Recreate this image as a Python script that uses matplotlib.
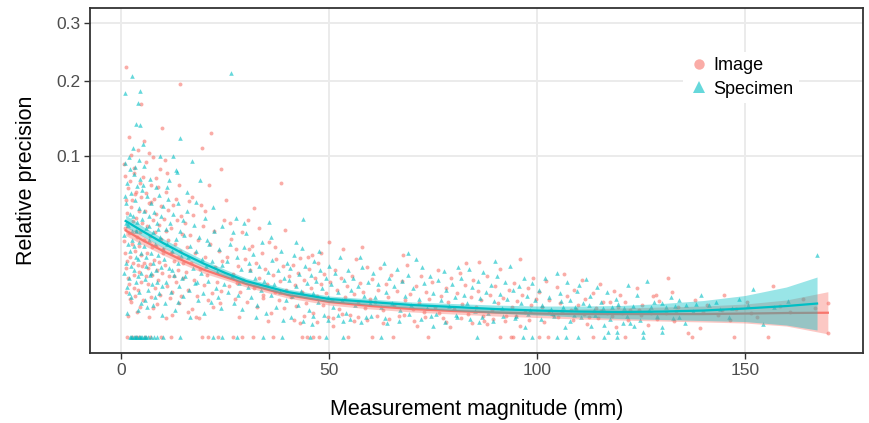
import numpy as np
import matplotlib
matplotlib.use("Agg")
import matplotlib.pyplot as plt
from matplotlib.lines import Line2D

plt.rcParams['font.family'] = ['Liberation Sans', 'DejaVu Sans']

# ---------------- data ----------------
series_names = ["Image", "Specimen"]
x_ticks = [0, 50, 100, 150]
y_ticks = [0.1, 0.2, 0.3]
y_tick_labels = ["0.1", "0.2", "0.3"]

# Image observations (x mm, relative precision)
image_points = [
    (1.1, 0.222), (1.8, 0.122), (4.6, 0.166), (0.9, 0.079), (5.5, 0.117),
    (0.7, 0.091), (1.3, 0.047), (0.6, 0.028), (1.0, 0.0145), (1.5, 0.068), (1.2, 0.0062), (2.3, 0.101), (1.7, 0.033), (2.1, 0.0195), (1.9, 0.0087),
    (2.6, 0.057), (2.4, 0.0038), (3.1, 0.082), (2.8, 0.041), (3.3, 0.0225), (2.9, 0.0118), (3.6, 0.064), (3.8, 0.0305), (3.2, 0.0052), (4.1, 0.0485),
    (3.9, 0.0158), (4.4, 0.072), (4.3, 0.0255), (4.7, 0.0094), (4.0, 0.107), (4.9, 0.0395), (4.5, 0.0027), (0.8, 0.0365), (1.4, 0.0175), (2.0, 0.0745),
    (2.5, 0.0265), (3.0, 0.0072), (3.5, 0.0435), (4.2, 0.0128), (4.8, 0.0595), (1.6, 0.0108), (2.2, 0.0515), (2.7, 0.0165), (3.4, 0.0345), (3.7, 0.0019),
    (4.6, 0.0205), (1.1, 0.0575), (0.9, 0.0215), (2.0, 0.0043), (3.2, 0.0625), (4.9, 0.0152), (1.5, 0.0013), (2.9, 0.0875), (3.9, 0.0068), (4.4, 0.0335),
    (6.7, 0.103), (7.7, 0.099), (9.8, 0.133),
    (5.2, 0.0785), (5.4, 0.0285), (5.6, 0.0485), (5.8, 0.0112), (5.1, 0.0042), (6.0, 0.0635), (6.2, 0.0215), (6.1, 0.0375), (6.4, 0.0086), (6.5, 0.0545),
    (6.9, 0.0162), (6.8, 0.0312), (7.1, 0.0705), (7.0, 0.0048), (7.3, 0.0245), (7.5, 0.0415), (7.4, 0.0118), (7.9, 0.0585), (7.8, 0.0182), (8.1, 0.0335),
    (8.0, 0.0074), (8.3, 0.0465), (8.5, 0.0135), (8.4, 0.0255), (8.8, 0.0685), (8.7, 0.0098), (9.0, 0.0385), (9.1, 0.0172), (9.3, 0.0055), (9.4, 0.0295),
    (9.6, 0.0525), (9.7, 0.0124), (9.9, 0.0215), (5.9, 0.0935), (6.6, 0.0012), (7.6, 0.0026), (8.6, 0.0033), (9.2, 0.0865), (5.3, 0.0168), (8.2, 0.0775),
    (6.3, 0.0145), (7.2, 0.0555),
    (10.5, 0.0956), (14.2, 0.196),
    (10.2, 0.0425), (10.4, 0.0158), (10.7, 0.0645), (10.9, 0.0078), (11.1, 0.0285), (11.3, 0.0495), (11.5, 0.0115), (11.8, 0.0215), (12.0, 0.0365), (12.2, 0.0062),
    (12.4, 0.0535), (12.6, 0.0175), (12.9, 0.0265), (13.1, 0.0094), (13.3, 0.0415), (13.5, 0.0138), (13.8, 0.0705), (14.0, 0.0225), (14.3, 0.0052), (14.6, 0.0325),
    (14.8, 0.0108), (10.1, 0.0235), (10.8, 0.0345), (11.6, 0.0046), (12.7, 0.0115), (13.6, 0.0195), (14.4, 0.0445), (11.0, 0.0825), (12.1, 0.0015), (13.0, 0.0585),
    (14.9, 0.0165), (10.6, 0.0011), (13.9, 0.0036),
    (21.5, 0.127), (19.3, 0.109), (23.9, 0.0861), (21.1, 0.0705), (16.9, 0.0598), (19.1, 0.0532),
    (15.2, 0.0395), (15.5, 0.0128), (15.8, 0.0245), (16.1, 0.0068), (16.4, 0.0315), (16.7, 0.0165), (17.2, 0.0455), (17.5, 0.0098), (17.8, 0.0215), (18.1, 0.0052),
    (18.4, 0.0285), (18.8, 0.0142), (19.5, 0.0375), (19.8, 0.0082), (20.2, 0.0195), (20.6, 0.0118), (21.4, 0.0265), (21.8, 0.0058), (22.2, 0.0345), (22.6, 0.0148),
    (23.0, 0.0092), (23.4, 0.0225), (23.8, 0.0035), (24.3, 0.0175), (24.7, 0.0415), (15.9, 0.0019), (17.0, 0.0024), (18.6, 0.0011), (20.0, 0.0485), (22.0, 0.0028),
    (24.0, 0.0066), (16.2, 0.0565), (20.9, 0.0042), (18.0, 0.0012),
    (31.9, 0.0508), (38.4, 0.0724), (30.5, 0.0418), (39.4, 0.0349), (25.2, 0.0573),
    (25.5, 0.0195), (25.9, 0.0078), (26.4, 0.0295), (26.8, 0.0122), (27.2, 0.0045), (27.6, 0.0235), (28.0, 0.0155), (28.5, 0.0062), (28.9, 0.0335), (29.3, 0.0098),
    (29.8, 0.0185), (30.2, 0.0038), (30.9, 0.0135), (31.4, 0.0255), (31.8, 0.0072), (32.3, 0.0165), (32.7, 0.0028), (33.2, 0.0108), (33.7, 0.0215), (34.1, 0.0055),
    (34.6, 0.0142), (35.0, 0.0085), (35.5, 0.0275), (36.0, 0.0018), (36.4, 0.0118), (36.9, 0.0062), (37.3, 0.0185), (37.8, 0.0042), (38.2, 0.0095), (38.8, 0.0155),
    (39.2, 0.0025), (39.7, 0.0068), (26.1, 0.0395), (28.2, 0.0012), (30.6, 0.0235), (33.0, 0.0365), (35.2, 0.0008), (37.0, 0.0245), (34.0, 0.0046), (27.9, 0.0088),
    (44.8, 0.0194), (48.0, 0.0214), (43.0, 0.019), (53.4, 0.0235), (57.8, 0.0249),
    (40.3, 0.0112), (40.8, 0.0048), (41.2, 0.0158), (41.7, 0.0082), (42.1, 0.0029), (42.6, 0.0125), (43.5, 0.0062), (43.9, 0.0098), (44.3, 0.0035), (45.2, 0.0142),
    (45.6, 0.0072), (46.1, 0.0018), (46.5, 0.0108), (47.0, 0.0052), (47.4, 0.0165), (47.9, 0.0085), (48.4, 0.0032), (48.8, 0.0122), (49.3, 0.0058), (49.7, 0.0012),
    (50.2, 0.0092), (50.7, 0.0042), (51.3, 0.0135), (51.8, 0.0068), (52.4, 0.0024), (52.9, 0.0105), (53.8, 0.0048), (54.3, 0.0078), (54.9, 0.0015), (55.4, 0.0115),
    (55.9, 0.0056), (56.5, 0.0185), (57.0, 0.0035), (57.4, 0.0088), (58.2, 0.0062), (58.7, 0.0026), (59.2, 0.0148), (59.7, 0.0045), (42.9, 0.0006), (51.0, 0.0004),
    (56.0, 0.0008), (45.9, 0.0205), (49.9, 0.0275),
    (86.1, 0.0172),
    (60.4, 0.0102), (61.0, 0.0038), (61.7, 0.0068), (62.3, 0.0145), (62.9, 0.0022), (63.6, 0.0085), (64.2, 0.0048), (64.9, 0.0118), (65.6, 0.0031), (66.2, 0.0065),
    (66.9, 0.0013), (67.5, 0.0095), (68.2, 0.0042), (68.8, 0.0158), (69.5, 0.0056), (70.1, 0.0024), (70.8, 0.0078), (71.5, 0.0036), (72.1, 0.0112), (72.8, 0.0019),
    (73.4, 0.0062), (74.1, 0.0045), (74.8, 0.0092), (75.4, 0.0028), (76.1, 0.0135), (76.8, 0.0052), (77.4, 0.0011), (78.1, 0.0072), (78.7, 0.0038), (79.4, 0.0105),
    (80.1, 0.0024), (80.7, 0.0058), (81.4, 0.0125), (82.0, 0.0034), (82.7, 0.0082), (83.4, 0.0016), (84.0, 0.0048), (84.7, 0.0098), (85.3, 0.0028), (85.9, 0.0065),
    (86.6, 0.0042), (87.3, 0.0008), (87.9, 0.0115), (88.6, 0.0053), (89.2, 0.0022), (89.9, 0.0078), (90.6, 0.0035), (91.2, 0.0142), (91.9, 0.0046), (92.5, 0.0014),
    (93.2, 0.0068), (93.9, 0.0027), (94.5, 0.0088), (95.2, 0.0039), (95.8, 0.0185), (96.5, 0.0055), (97.2, 0.0019), (97.8, 0.0072), (98.5, 0.0032), (99.1, 0.0108),
    (99.8, 0.0044), (63.0, 0.0006), (71.0, 0.0004), (79.0, 0.0003), (88.0, 0.0005), (96.0, 0.0004), (67.8, 0.0205), (83.0, 0.0165),
    (100.5, 0.0062), (101.3, 0.0028), (102.2, 0.0095), (103.0, 0.0041), (103.9, 0.0015), (104.7, 0.0075), (105.6, 0.0035), (106.5, 0.0122), (107.3, 0.0052), (108.2, 0.0022),
    (109.0, 0.0068), (109.9, 0.0031), (110.8, 0.0098), (111.6, 0.0045), (112.5, 0.0012), (113.4, 0.0058), (114.2, 0.0026), (115.1, 0.0085), (116.0, 0.0038), (116.8, 0.0018),
    (117.6, 0.0038), (118.5, 0.0065), (119.4, 0.0028), (120.0, 0.0054), (121.2, 0.0038), (122.5, 0.0022), (124.0, 0.0072), (125.3, 0.0031), (126.7, 0.00044), (128.0, 0.0051),
    (128.6, 0.0054), (129.4, 0.0040), (131.0, 0.0018), (132.5, 0.0062), (134.0, 0.0028), (136.3, 0.00005), (138.0, 0.0042), (139.2, 0.00025), (141.0, 0.0032), (143.5, 0.0015),
    (145.0, 0.0055), (148.0, 0.0024), (150.5, 0.0038), (153.0, 0.0012), (156.8, 0.0080), (158.5, 0.0030), (161.0, 0.0019), (164.0, 0.0045), (167.0, 0.0026), (170.0, 0.0035),
    (170.0, 0.00006), (112.0, 0.0005), (119.0, 0.0003), (131.5, 0.0105), (146.5, 0.0009),
    (41.5, 0.0009), (44.0, 0.0014), (47.0, 0.0007), (50.8, 0.0011), (53.0, 0.0016), (56.8, 0.0012), (59.0, 0.0009), (61.5, 0.0013), (64.5, 0.0010), (68.0, 0.0015),
    (70.5, 0.0008), (73.0, 0.0012), (76.5, 0.0017), (78.0, 0.0007), (81.8, 0.0011), (84.3, 0.0006), (86.9, 0.0014), (89.5, 0.0010), (92.2, 0.0008), (95.0, 0.0013),
    (98.0, 0.0009), (101.8, 0.0007), (105.0, 0.0012), (108.6, 0.0009), (111.2, 0.0016), (114.8, 0.0011), (118.0, 0.0013), (122.0, 0.0009), (125.0, 0.0015), (129.0, 0.0010),
    (133.0, 0.0008), (102.8, 0.0021), (106.0, 0.0019), (109.5, 0.0024), (115.5, 0.0020), (120.5, 0.0017), (124.5, 0.0023), (127.5, 0.0018), (133.5, 0.0021), (140.0, 0.0019),
    (144.5, 0.0022), (151.5, 0.0017),
]
# Image observations recorded as exactly zero
image_zero_x = [1.4, 2.6, 3.6, 4.3, 5.7, 6.8, 9.6, 12.0, 19.3, 20.8, 23.2, 26.8,
                28.9, 31.6, 36.5, 43.4, 44.7, 46.1, 47.5, 54.5, 60.3, 65.3,
                73.8, 91.1, 93.7, 94.2, 100.5, 102.6, 113.5, 121.2, 137.3,
                147.4, 155.6]

# Specimen observations (x mm, relative precision)
specimen_points = [
    (2.6, 0.208), (0.9, 0.181), (4.5, 0.185), (4.0, 0.167), (3.5, 0.138), (4.5, 0.137), (2.7, 0.109),
    (0.8, 0.0925), (1.2, 0.0545), (0.7, 0.0315), (1.0, 0.0168), (1.4, 0.0725), (1.3, 0.0075), (1.8, 0.0985), (1.6, 0.0385), (2.0, 0.0225), (1.9, 0.0105),
    (2.3, 0.0635), (2.2, 0.0048), (2.5, 0.0285), (2.9, 0.0815), (2.8, 0.0445), (3.1, 0.0135), (3.3, 0.0575), (3.0, 0.0252), (3.6, 0.0092), (3.7, 0.0695),
    (3.4, 0.0345), (3.9, 0.0185), (4.2, 0.0505), (4.1, 0.0062), (4.4, 0.0765), (4.3, 0.0275), (4.7, 0.0125), (4.9, 0.0425), (4.6, 0.0215), (4.8, 0.0035),
    (0.6, 0.0125), (1.5, 0.0265), (2.1, 0.0465), (2.4, 0.0155), (3.2, 0.0885), (3.8, 0.0405), (4.0, 0.0022), (1.1, 0.0395), (1.7, 0.0058), (2.6, 0.0345),
    (3.5, 0.0195), (4.9, 0.0655), (0.9, 0.0605), (2.0, 0.0865), (3.9, 0.0115), (1.3, 0.0018), (4.3, 0.0955),
    (5.2, 0.114),
    (5.1, 0.0705), (5.3, 0.0255), (5.5, 0.0485), (5.7, 0.0102), (5.9, 0.0365), (6.0, 0.0155), (6.2, 0.0605), (6.3, 0.0068), (6.5, 0.0285), (6.6, 0.0445),
    (6.8, 0.0118), (7.0, 0.0215), (7.1, 0.0545), (7.3, 0.0085), (7.5, 0.0335), (7.6, 0.0165), (7.8, 0.0475), (8.0, 0.0048), (8.1, 0.0265), (8.3, 0.0135),
    (8.5, 0.0395), (8.6, 0.0092), (8.8, 0.0205), (9.0, 0.0615), (9.1, 0.0058), (9.3, 0.0305), (9.5, 0.0148), (9.6, 0.0445), (9.8, 0.0078), (9.9, 0.0235),
    (5.4, 0.0895), (6.1, 0.0028), (6.9, 0.0765), (7.7, 0.0032), (8.4, 0.0685), (9.2, 0.0995), (5.8, 0.0195), (6.7, 0.0375), (7.2, 0.0125), (8.9, 0.0355),
    (9.7, 0.0015), (5.6, 0.0042),
    (14.0, 0.121), (12.3, 0.100), (13.3, 0.083), (13.0, 0.085),
    (10.1, 0.0525), (10.3, 0.0185), (10.6, 0.0355), (10.8, 0.0092), (11.0, 0.0265), (11.2, 0.0585), (11.4, 0.0145), (11.7, 0.0395), (11.9, 0.0062), (12.1, 0.0225),
    (12.5, 0.0465), (12.7, 0.0118), (13.1, 0.0295), (13.5, 0.0165), (13.7, 0.0545), (13.9, 0.0078), (14.2, 0.0345), (14.4, 0.0198), (14.7, 0.0052), (14.9, 0.0415),
    (10.4, 0.0035), (11.5, 0.0755), (12.9, 0.0022), (14.5, 0.0108), (10.9, 0.0685), (12.2, 0.0138), (13.6, 0.0038),
    (16.9, 0.0948), (18.9, 0.0752),
    (15.1, 0.0315), (15.4, 0.0112), (15.7, 0.0485), (16.0, 0.0195), (16.3, 0.0068), (16.6, 0.0255), (17.1, 0.0145), (17.4, 0.0385), (17.7, 0.0088), (18.0, 0.0225),
    (18.3, 0.0042), (18.6, 0.0305), (19.1, 0.0125), (19.4, 0.0185), (19.7, 0.0058), (20.1, 0.0435), (20.4, 0.0152), (20.8, 0.0095), (21.1, 0.0265), (21.5, 0.0038),
    (21.9, 0.0175), (22.3, 0.0345), (22.7, 0.0072), (23.1, 0.0128), (23.5, 0.0235), (23.9, 0.0025), (24.3, 0.0158), (24.7, 0.0085), (15.8, 0.0645), (17.9, 0.0555),
    (19.9, 0.0018), (22.0, 0.0515), (24.1, 0.0375), (16.5, 0.0012), (18.2, 0.0092), (20.6, 0.0285), (23.3, 0.0048),
    (26.4, 0.213), (27.5, 0.0432), (35.5, 0.0403), (30.0, 0.033),
    (25.3, 0.0175), (25.7, 0.0062), (26.1, 0.0265), (26.6, 0.0115), (27.0, 0.0035), (27.9, 0.0195), (28.3, 0.0088), (28.7, 0.0142), (29.1, 0.0024), (29.6, 0.0245),
    (30.4, 0.0075), (30.8, 0.0165), (31.2, 0.0048), (31.7, 0.0212), (32.1, 0.0105), (32.6, 0.0032), (33.0, 0.0155), (33.5, 0.0068), (33.9, 0.0275), (34.4, 0.0095),
    (34.8, 0.0018), (35.2, 0.0128), (35.9, 0.0055), (36.3, 0.0182), (36.8, 0.0085), (37.2, 0.0028), (37.6, 0.0138), (38.1, 0.0062), (38.5, 0.0225), (39.0, 0.0105),
    (39.5, 0.0042), (39.9, 0.0165), (26.9, 0.0335), (29.4, 0.0395), (32.4, 0.0012), (36.0, 0.0305), (38.8, 0.0009), (31.0, 0.0135), (28.0, 0.0055),
    (43.8, 0.0423), (43.4, 0.024), (57.4, 0.0194),
    (40.2, 0.0098), (40.6, 0.0145), (41.0, 0.0052), (41.5, 0.0205), (41.9, 0.0078), (42.4, 0.0032), (42.8, 0.0122), (43.2, 0.0065), (44.2, 0.0155), (44.7, 0.0088),
    (45.1, 0.0022), (45.5, 0.0118), (46.0, 0.0058), (46.4, 0.0175), (46.9, 0.0095), (47.3, 0.0038), (47.8, 0.0135), (48.2, 0.0072), (48.7, 0.0015), (49.1, 0.0108),
    (49.6, 0.0048), (50.0, 0.0155), (50.5, 0.0085), (51.0, 0.0028), (51.5, 0.0125), (52.0, 0.0062), (52.5, 0.0195), (53.0, 0.0042), (53.6, 0.0098), (54.1, 0.0018),
    (54.6, 0.0135), (55.2, 0.0068), (55.7, 0.0105), (56.2, 0.0032), (56.8, 0.0078), (57.9, 0.0148), (58.4, 0.0052), (58.9, 0.0012), (59.4, 0.0092), (59.9, 0.0035),
    (42.0, 0.0275), (47.6, 0.0225), (53.3, 0.0008), (45.8, 0.0005),
    (72.4, 0.0150), (81.1, 0.0150),
    (60.5, 0.0125), (61.1, 0.0048), (61.8, 0.0085), (62.4, 0.0028), (63.1, 0.0168), (63.7, 0.0062), (64.4, 0.0105), (65.0, 0.0035), (65.7, 0.0078), (66.3, 0.0142),
    (67.0, 0.0022), (67.6, 0.0095), (68.3, 0.0052), (68.9, 0.0118), (69.6, 0.0032), (70.2, 0.0072), (70.9, 0.0185), (71.6, 0.0045), (72.9, 0.0088), (73.6, 0.0025),
    (74.2, 0.0115), (74.9, 0.0058), (75.6, 0.0016), (76.2, 0.0098), (76.9, 0.0042), (77.5, 0.0132), (78.2, 0.0068), (78.9, 0.0029), (79.5, 0.0085), (80.2, 0.0048),
    (80.8, 0.0012), (81.7, 0.0105), (82.4, 0.0055), (83.1, 0.0036), (83.7, 0.0142), (84.4, 0.0075), (85.0, 0.0021), (85.7, 0.0095), (86.3, 0.0046), (87.0, 0.0128),
    (87.7, 0.0062), (88.3, 0.0018), (89.0, 0.0082), (89.6, 0.0039), (90.3, 0.0112), (91.0, 0.0056), (91.6, 0.0025), (92.3, 0.0092), (92.9, 0.0044), (93.6, 0.0152),
    (94.3, 0.0068), (94.9, 0.0014), (95.6, 0.0078), (96.2, 0.0035), (96.9, 0.0105), (97.6, 0.0052), (98.2, 0.0022), (98.9, 0.0088), (99.5, 0.0041), (64.0, 0.0006),
    (75.0, 0.0004), (86.0, 0.0007), (97.0, 0.0003), (69.0, 0.0215), (90.0, 0.0175),
    (104.7, 0.0126), (110.2, 0.0083), (122.0, 0.0083), (132.2, 0.0050), (134.2, 0.0042), (139.4, 0.0054), (128.2, 0.0038), (152.1, 0.0070), (150.7, 0.0031), (146.3, 0.0012),
    (154.5, 0.0005), (125.4, 0.00007), (130.2, 0.00007), (130.2, 0.00032), (123.3, 0.0004), (120.7, 0.0006), (122.4, 0.0006), (135.6, 0.0006), (134.2, 0.0012), (167.5, 0.0205),
    (119.2, 0.00007), (117.2, 0.00007), (116.2, 0.00044), (135.9, 0.0031),
    (100.4, 0.0068), (101.2, 0.0032), (102.0, 0.0108), (102.9, 0.0048), (103.7, 0.0018), (105.5, 0.0058), (106.3, 0.0028), (107.2, 0.0092), (108.0, 0.0042), (108.9, 0.0015),
    (109.7, 0.0065), (111.0, 0.0035), (111.9, 0.0102), (112.7, 0.0052), (113.6, 0.0022), (114.4, 0.0075), (115.3, 0.0038), (116.9, 0.0062), (118.0, 0.0028), (119.0, 0.0045),
    (121.0, 0.0025), (124.0, 0.0055), (127.0, 0.0022), (131.0, 0.0028), (137.5, 0.0020), (141.5, 0.0032), (144.0, 0.0024), (148.5, 0.0045), (157.0, 0.0028), (160.5, 0.0040),
    (126.5, 0.0095), (113.0, 0.0004), (106.8, 0.0003),
    (40.8, 0.0012), (43.6, 0.0008), (46.2, 0.0013), (49.8, 0.0009), (52.2, 0.0015), (55.0, 0.0010), (57.6, 0.0007), (60.0, 0.0014), (63.4, 0.0011), (66.8, 0.0008),
    (69.3, 0.0016), (72.0, 0.0010), (74.5, 0.0013), (77.9, 0.0007), (80.5, 0.0015), (83.9, 0.0010), (86.8, 0.0012), (89.3, 0.0008), (91.9, 0.0014), (94.6, 0.0011),
    (97.9, 0.0016), (100.9, 0.0010), (104.2, 0.0013), (107.9, 0.0008), (110.6, 0.0012), (114.0, 0.0015), (117.5, 0.0010), (121.6, 0.0013), (124.8, 0.0009), (128.8, 0.0014),
    (132.8, 0.0011), (103.3, 0.0024), (105.8, 0.0040), (109.2, 0.0027), (112.4, 0.0031), (115.9, 0.0026), (119.6, 0.0034), (123.0, 0.0030), (127.4, 0.0027), (130.0, 0.0036),
    (133.2, 0.0029), (138.2, 0.0033), (143.0, 0.0038), (147.0, 0.0026),
]
# Specimen observations recorded as exactly zero
specimen_zero_x = [2.0, 2.3, 2.6, 2.9, 3.2, 3.5, 3.8, 4.1, 4.4, 4.7, 5.0, 5.3,
                   5.6, 5.9, 6.3, 7.0, 7.8, 8.5, 10.0, 14.1, 22.0, 24.2, 27.8,
                   34.0, 38.6, 45.4, 49.2, 53.2, 62.5, 85.5, 96.6, 98.8, 104.8,
                   107.0, 109.9, 116.1, 119.3, 125.6]

# smoothed fits with confidence bands
fit_x_specimen = [1, 5, 10, 15, 20, 25, 30, 40, 50, 60, 70, 80, 90, 100,
                  110, 120, 130, 140, 150, 160, 167.4]
fit_specimen = [0.04106, 0.03428, 0.02696, 0.02102, 0.01626, 0.01250, 0.00957,
                0.00618, 0.00441, 0.00374, 0.00312, 0.00275, 0.00239, 0.00214,
                0.00198, 0.00191, 0.00198, 0.00214, 0.00248, 0.00293, 0.00342]
upper_specimen = [0.04541, 0.03759, 0.02960, 0.02309, 0.01786, 0.01390, 0.01062,
                  0.00703, 0.00513, 0.00441, 0.00374, 0.00342, 0.00312, 0.00293,
                  0.00293, 0.00303, 0.00342, 0.00406, 0.00525, 0.00763, 0.01098]
lower_specimen = [0.03692, 0.03112, 0.02444, 0.01904, 0.01474, 0.01117, 0.00857,
                  0.00538, 0.00374, 0.00312, 0.00257, 0.00214, 0.00176, 0.00148,
                  0.00122, 0.00104, 0.00093, 0.00083, 0.00073, 0.00044, 0.00015]

fit_x_image = [1, 5, 10, 15, 20, 25, 30, 40, 50, 60, 70, 80, 90, 100,
               110, 120, 130, 140, 150, 160, 170]
fit_image = [0.03461, 0.02871, 0.02257, 0.01762, 0.01370, 0.01098, 0.00857,
             0.00538, 0.00374, 0.00293, 0.00239, 0.00206, 0.00183, 0.00168,
             0.00161, 0.00161, 0.00161, 0.00161, 0.00168, 0.00176, 0.00180]
upper_image = [0.03793, 0.03143, 0.02471, 0.01928, 0.01516, 0.01211, 0.00957,
               0.00618, 0.00441, 0.00353, 0.00293, 0.00257, 0.00239, 0.00231,
               0.00239, 0.00257, 0.00275, 0.00293, 0.00332, 0.00418, 0.00626]
lower_image = [0.03143, 0.02611, 0.02052, 0.01604, 0.01230, 0.00991, 0.00763,
               0.00464, 0.00312, 0.00239, 0.00191, 0.00161, 0.00135, 0.00116,
               0.00099, 0.00088, 0.00078, 0.00069, 0.00060, 0.00037, 0.00003]

# ---------------- plot ----------------
RED = "#F8766D"
TEAL = "#00BFC4"

img_x = [p[0] for p in image_points] + image_zero_x
img_y = [p[1] for p in image_points] + [0.0] * len(image_zero_x)
spc_x = [p[0] for p in specimen_points] + specimen_zero_x
spc_y = [p[1] for p in specimen_points] + [0.0] * len(specimen_zero_x)

fig = plt.figure(figsize=(8.70, 4.23), dpi=100)
ax = fig.add_axes([90 / 870, 70 / 423, 773 / 870, 344.7 / 423])


def fwd(v):
    v = np.asarray(v, dtype=float)
    return np.sign(v) * np.sqrt(np.abs(v))


def inv(v):
    v = np.asarray(v, dtype=float)
    return np.sign(v) * v ** 2


ax.set_yscale('function', functions=(fwd, inv))
ax.set_xlim(-7.58, 178.46)
ax.set_ylim(-0.000778, 0.3296)

ax.set_axisbelow(True)
ax.grid(True, color="#EBEBEB", lw=1.4, zorder=0)

ax.scatter(img_x, img_y, s=8, marker='o', color=RED, alpha=0.6,
           linewidths=0, zorder=2)
ax.scatter(spc_x, spc_y, s=11, marker='^', color=TEAL, alpha=0.6,
           linewidths=0, zorder=2)

ax.fill_between(fit_x_image, lower_image, upper_image, color=RED, alpha=0.4,
                lw=0, zorder=3)
ax.plot(fit_x_image, fit_image, color=RED, lw=1.6, zorder=3)
ax.fill_between(fit_x_specimen, lower_specimen, upper_specimen, color=TEAL,
                alpha=0.4, lw=0, zorder=3)
ax.plot(fit_x_specimen, fit_specimen, color=TEAL, lw=1.6, zorder=3)

ax.set_xticks(x_ticks)
ax.set_xticklabels([str(t) for t in x_ticks])
ax.set_yticks(y_ticks)
ax.set_yticklabels(y_tick_labels)
ax.minorticks_off()
ax.tick_params(axis='both', which='major', length=4, width=1.0,
               color="#333333", labelcolor="#4D4D4D", labelsize=12.5, pad=3)

for sp in ax.spines.values():
    sp.set_color("#333333")
    sp.set_linewidth(1.3)

ax.set_xlabel("Measurement magnitude (mm)", fontsize=15.5, color="black",
              labelpad=15)
ax.set_ylabel("Relative precision", fontsize=15.5, color="black", labelpad=14)

handles = [
    Line2D([], [], marker='o', color=RED, alpha=0.6, ls='none',
           markersize=7.5, markeredgewidth=0),
    Line2D([], [], marker='^', color=TEAL, alpha=0.6, ls='none',
           markersize=8, markeredgewidth=0),
]
leg = ax.legend(handles, series_names, loc='upper left',
                bbox_to_anchor=((683 - 90) / 773, (353 - 52) / 344.7),
                frameon=True, fontsize=13, handletextpad=0.2,
                handlelength=1.2, labelspacing=0.35, borderpad=0.3,
                borderaxespad=0)
leg.get_frame().set_facecolor("white")
leg.get_frame().set_edgecolor("none")
leg.get_frame().set_alpha(1)
leg.get_frame().set_boxstyle("square", pad=0)

fig.savefig("out.png", dpi=100)
